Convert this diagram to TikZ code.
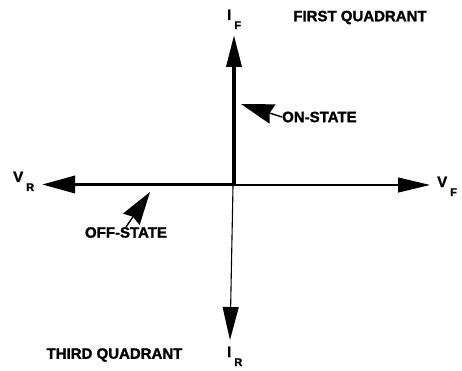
\documentclass[tikz,border=0pt]{standalone}
\usepackage{fontspec}
\setmainfont{Liberation Sans}[BoldFeatures={FakeBold=1.5}]
\usetikzlibrary{arrows.meta}

% lowered subscript letter for the axis labels
\newcommand{\axsub}[1]{\hspace{3pt}\raisebox{-9pt}{\fontsize{11}{11}\selectfont #1}}

\begin{document}
\begin{tikzpicture}[x=1pt, y=-1pt,
    axisthick/.style={line width=3.5pt},
    axisthin/.style={line width=1.1pt},
    bigtip/.style={-{Triangle[length=32pt,width=15pt]}},
    lbl/.style={font=\fontsize{15}{15}\selectfont\bfseries, inner sep=0pt},
    callout/.style={line width=1.4pt, -{Stealth[length=33pt,width=20pt,inset=3pt]}}]
    \useasboundingbox (0,0) rectangle (462,371);
    % axis end points
    \coordinate (O) at (234,185);
    \coordinate (ifTip) at (234,35);
    \coordinate (vrTip) at (42,184.5);
    \coordinate (vfTip) at (430,185);
    \coordinate (irStart) at (233,186);
    \coordinate (irTip) at (230,340);
    % axis labels
    \node[lbl, anchor=base west] (IF) at (227,20) {I\axsub{F}};
    \node[lbl, anchor=base west] (VR) at (13,182) {V\axsub{R}};
    \node[lbl, anchor=base west] (VF) at (437,187) {V\axsub{F}};
    \node[lbl, anchor=base west] (IR) at (227,357) {I\axsub{R}};
    % quadrant names
    \node[lbl] (first) at (360,17.5) {FIRST QUADRANT};
    \node[lbl] (third) at (114.5,355) {THIRD QUADRANT};
    % reverse and forward branches
    \draw[axisthick, {Triangle[length=33pt,width=17pt]}-{Triangle[length=32pt,width=15pt]}]
      (vrTip) -- (vrTip -| O) -- (ifTip);
    \draw[axisthin, bigtip] (O) -- (vfTip);
    \draw[axisthin, {Triangle[length=33pt,width=16pt]}-] (irTip) -- (irStart);
    % state callouts
    \node[lbl, anchor=west] (on) at (282,117) {ON-STATE};
    \node[lbl] (off) at (126,232.5) {OFF-STATE};
    \coordinate (onTip) at (241,104);
    \coordinate (offTip) at (150,192);
    \draw[callout] (on.west) -- (onTip);
    \draw[callout] (off.north) -- (offTip);
\end{tikzpicture}
\end{document}
